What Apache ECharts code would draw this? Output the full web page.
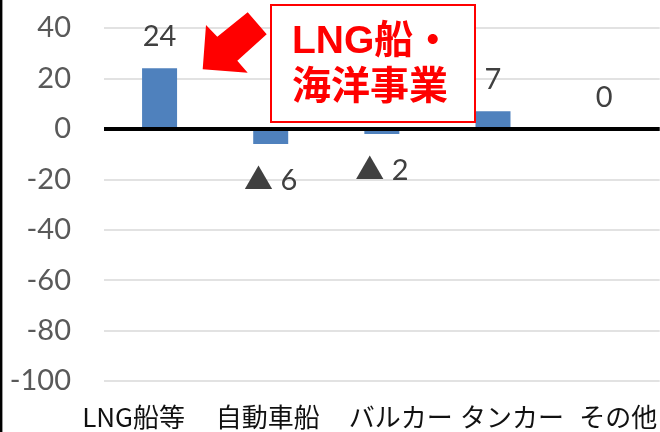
<!DOCTYPE html>
<html>
<head>
<meta charset="utf-8">
<script src="https://cdn.jsdelivr.net/npm/echarts@6/dist/echarts.min.js"></script>
<style>
  html, body { margin: 0; padding: 0; background: #fff; }
  #chart { width: 660px; height: 432px; }
</style>
</head>
<body>
<div id="chart"></div>
<script>
// Segment profit change by ship type
const categories = ['LNG船等', '自動車船', 'バルカー', 'タンカー', 'その他'];
const values = [24, -6, -2, 7, 0];
const yTicks = { min: -100, max: 40, step: 20 };
const calloutLines = ['LNG船・', '海洋事業'];

// horizontal nudge of each category label (px), layout only
const labelNudge = [-26, -3, 19, 19, 14];

const rich = {};
labelNudge.forEach((s, i) => {
  rich['c' + i] = {
    fontFamily: '"Noto Sans CJK JP"',
    fontSize: 26,
    color: '#111',
    padding: s >= 0 ? [0, 0, 0, 2 * s] : [0, -2 * s, 0, 0]
  };
});

const chart = echarts.init(document.getElementById('chart'), null, { renderer: 'canvas' });

const barData = values.map(v => ({
  value: v,
  label: v < 0 ? { position: 'bottom', distance: 22 } : { position: 'top', distance: 17 }
}));

chart.setOption({
  animation: false,
  backgroundColor: '#fff',
  grid: { left: 104, right: -1, top: 28, bottom: 51, containLabel: false },
  xAxis: {
    type: 'category',
    data: categories,
    axisLine: { show: false, onZero: false },
    axisTick: { show: false },
    splitLine: { show: false },
    axisLabel: {
      interval: 0,
      margin: 23,
      formatter: (val, idx) => '{c' + idx + '|' + val + '}',
      rich: rich
    }
  },
  yAxis: {
    type: 'value',
    min: yTicks.min,
    max: yTicks.max,
    interval: yTicks.step,
    axisLine: { show: false },
    axisTick: { show: false },
    axisLabel: {
      margin: 33,
      fontFamily: 'Lato',
      fontSize: 29,
      color: '#595959'
    },
    splitLine: { lineStyle: { color: '#d9d9d9', width: 1.5 } }
  },
  series: [{
    type: 'bar',
    data: barData,
    barWidth: 35,
    itemStyle: { color: '#4f81bd' },
    label: {
      show: true,
      fontFamily: 'Lato, "Noto Sans CJK JP"',
      fontSize: 29,
      color: '#404040',
      formatter: p => (p.value < 0 ? '▲ ' + Math.abs(p.value) : String(p.value))
    },
    markLine: {
      silent: true,
      symbol: 'none',
      label: { show: false },
      lineStyle: { color: '#000', width: 4, type: 'solid' },
      data: [{ yAxis: 0 }]
    }
  }],
  graphic: [
    // frame edge on the left
    {
      type: 'line',
      shape: { x1: 1.2, y1: 0, x2: 1.2, y2: 432 },
      style: { stroke: '#000', lineWidth: 2.4 },
      z: 100
    },
    // callout arrow
    {
      type: 'polygon',
      shape: {
        points: [
          [206, 25], [217.3, 36.7], [247.7, 12.3], [266.7, 34.3],
          [237.3, 60.7], [247.7, 72.7], [202.7, 69.3]
        ]
      },
      style: { fill: '#ff0000' },
      z: 100
    },
    // callout box
    {
      type: 'rect',
      shape: { x: 271, y: 5, width: 204, height: 117 },
      style: { fill: '#fff', stroke: '#ff0000', lineWidth: 2 },
      z: 100
    },
    {
      type: 'text',
      style: {
        x: 292, y: 42,
        text: calloutLines[0],
        verticalAlign: 'middle',
        font: 'bold 39px "Liberation Sans", "Noto Sans CJK JP"',
        fill: '#ff0000'
      },
      z: 101
    },
    {
      type: 'text',
      style: {
        x: 292, y: 88,
        text: calloutLines[1],
        verticalAlign: 'middle',
        font: 'bold 39px "Liberation Sans", "Noto Sans CJK JP"',
        fill: '#ff0000'
      },
      z: 101
    }
  ]
});
</script>
</body>
</html>
